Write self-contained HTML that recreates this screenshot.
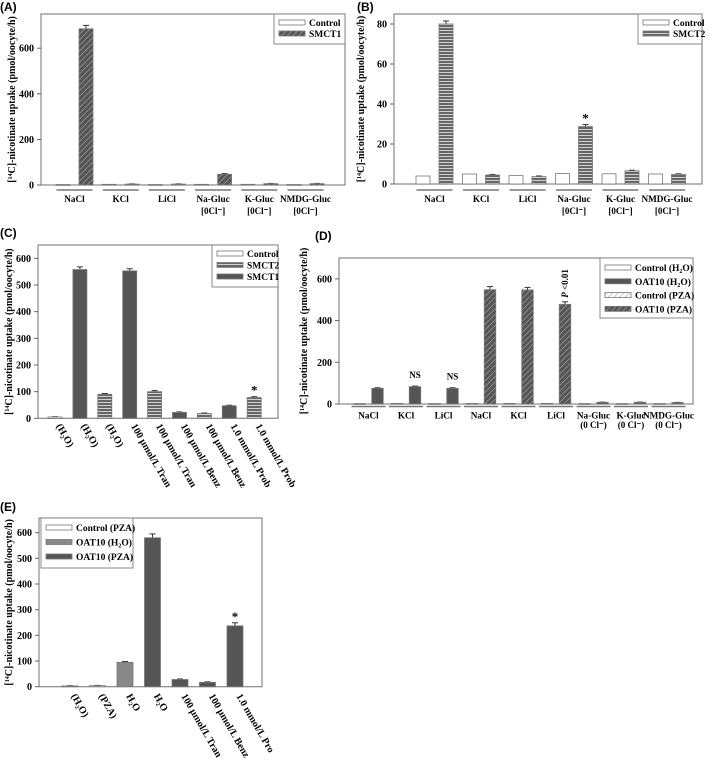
<!DOCTYPE html>
<html><head><meta charset="utf-8"><style>
body{margin:0;background:#fff}
svg{display:block;font-family:"Liberation Serif",serif;font-weight:bold}
.pl{font-family:"Liberation Sans",sans-serif;font-weight:bold;font-size:12px}
</style></head><body>
<svg id="fig" width="709" height="762" viewBox="0 0 709 762" xmlns="http://www.w3.org/2000/svg">
<defs>
<pattern id="diag" width="4" height="4" patternUnits="userSpaceOnUse" patternTransform="rotate(45)"><rect width="4" height="4" fill="#555"/><line x1="0" y1="0" x2="0" y2="4" stroke="#aaa" stroke-width="1.2"/></pattern>
<pattern id="horiz" width="4" height="3" patternUnits="userSpaceOnUse"><rect width="4" height="3" fill="#666"/><line x1="0" y1="0.5" x2="4" y2="0.5" stroke="#ddd" stroke-width="0.9"/></pattern>
<pattern id="diagl" width="4" height="4" patternUnits="userSpaceOnUse" patternTransform="rotate(45)"><rect width="4" height="4" fill="#fff"/><line x1="0" y1="0" x2="0" y2="4" stroke="#999" stroke-width="1"/></pattern>
</defs>
</svg>
<script>
// ---- Panel A data ----
const catsA = ["NaCl","KCl","LiCl","Na-Gluc","K-Gluc","NMDG-Gluc"];
const ctrlA = [2,3,2,3,3,2];
const smct1A = [685,4,4,47,6,6];
const errA = [15,1,1,3,1,1];
const ticksA = [0,200,400,600];
// ---- Panel B data ----
const catsB = ["NaCl","KCl","LiCl","Na-Gluc","K-Gluc","NMDG-Gluc"];
const ctrlB = [4,5,4.2,5.2,5.1,5.0];
const smct2B = [80,4.5,3.7,28.7,6.6,4.8];
const errB = [1.5,0.3,0.3,1,0.3,0.3];
const ticksB = [0,20,40,60,80];
// ---- Panel C data ----
const catsC = ["(H\u2082O)","(H\u2082O)","(H\u2082O)","100 \u00b5mol/L Tran","100 \u00b5mol/L Tran","100 \u00b5mol/L Benz","100 \u00b5mol/L Benz","1.0 mmol/L Prob","1.0 mmol/L Prob"];
const valsC = [5,558,90,553,100,22,18,47,78];
const errC = [1,10,3,8,4,2,2,2,3];
const seriesC = ["Control","SMCT1","SMCT2","SMCT1","SMCT2","SMCT1","SMCT2","SMCT1","SMCT2"];
const ticksC = [0,100,200,300,400,500,600];
// ---- Panel D data ----
const catsD = ["NaCl","KCl","LiCl","NaCl","KCl","LiCl","Na-Gluc","K-Gluc","NMDG-Gluc"];
const ctrlD = [2,3,2,3,3,3,2,2,2];
const oatD = [75,83,75,548,547,478,8,8,7];
const errD = [3,3,3,15,12,12,1,1,1];
const ticksD = [0,200,400,600];
// ---- Panel E data ----
const catsE = ["(H\u2082O)","(PZA)","H\u2082O","H\u2082O","100 \u00b5mol/L Tran","100 \u00b5mol/L Benz","1.0 mmol/L Pro"];
const valsE = [3,4,95,580,28,17,237];
const errE = [1,1,3,15,2,2,12];
const seriesE = ["Control (PZA)","Control (PZA)","OAT10 (H2O)","OAT10 (PZA)","OAT10 (PZA)","OAT10 (PZA)","OAT10 (PZA)"];
const ticksE = [0,100,200,300,400,500,600];

const NS="http://www.w3.org/2000/svg";
const svg=document.getElementById('fig');
function mk(tag,attrs,parent,txt){const e=document.createElementNS(NS,tag);for(const k in attrs)e.setAttribute(k,attrs[k]);if(txt!==undefined)e.textContent=txt;(parent||svg).appendChild(e);return e;}
const fills={"SMCT1":"url(#diag)","SMCT2":"url(#horiz)","Control (PZA)":"url(#diagl)","OAT10 (PZA)":"url(#diag)"};

function frame(g,P,ticks,label,tx){
  mk('rect',{x:P.x0,y:P.y1,width:P.x1-P.x0,height:P.y0-P.y1,fill:'none',stroke:'#888','stroke-width':1.2},g);
  const sy=v=>P.y0-(v/P.max)*(P.y0-P.y1);
  ticks.forEach(t=>{
    const y=sy(t);
    const l=mk('line',{x1:P.x0-4,x2:P.x0,y1:y,y2:y,stroke:'#666'},g);
    
    
    const tt=mk('text',{x:P.x0-7,y:y+3.5,'text-anchor':'end','font-size':10},g,String(t));
    
    
  });
  const ty=(P.y0+P.y1)/2;
  const t=mk('text',{x:tx,y:ty,'text-anchor':'middle','font-size':10,transform:`rotate(-90 ${tx} ${ty})`},g);
  
  
  mk('tspan',{},t,'[');mk('tspan',{'font-size':6,dy:-3},t,'14');mk('tspan',{dy:3},t,'C]-nicotinate uptake (pmol/oocyte/h)');
  const pl=mk('text',{x:P.lx,y:P.ly,'class':'pl'},g,label);
  
  
  return sy;
}
function bar(g,sy,cx,w,v,err,fill,name){
  const y=sy(v),y0=sy(0);
  if(err){const ye=sy(v+err);
    const e1=mk('line',{x1:cx,x2:cx,y1:y,y2:ye,stroke:'#333'},g);
    const e2=mk('line',{x1:cx-3,x2:cx+3,y1:ye,y2:ye,stroke:'#333'},g);
    
    }
  const r=mk('rect',{x:cx-w/2,y:y,width:w,height:Math.max(0.8,y0-y),fill:fill,stroke:'#777','stroke-width':0.8},g);
  
  
}
function legend(g,x,y,w,h,items,rowH,y0){
  const b=mk('rect',{x:x,y:y,width:w,height:h,fill:'#fff',stroke:'#888'},g);
  
  items.forEach((it,i)=>{
    const yy=y+y0+i*rowH;
    const s=mk('rect',{x:x+5,y:yy-4,width:26,height:5,fill:it[1],stroke:'#777','stroke-width':0.8},g);
    
    const t=mk('text',{x:x+35,y:yy+2,'font-size':9.5},g);
    
    it[0].forEach(p=>mk('tspan',p[1]||{},t,p[0]));
  });
}
function underlabels(g,cx,cats,half,l2,lineY,twoY,fs){
  cats.forEach((c,i)=>{
    const u=mk('line',{x1:cx(i)-half,x2:cx(i)+half,y1:lineY,y2:lineY,stroke:'#777','stroke-width':1.5},g);
    
    const t=mk('text',{x:cx(i),y:lineY+12,'text-anchor':'middle','font-size':fs},g,c);
    
    if(l2&&l2[i]){const t2=mk('text',{x:cx(i),y:lineY+twoY,'text-anchor':'middle','font-size':9},g,l2[i]);
      }
  });
}
function rotlabels(g,cx,y,cats){
  cats.forEach((c,i)=>{
    const x=cx(i)+1;
    const t=mk('text',{x:x,y:y,'font-size':10,transform:`rotate(60 ${x} ${y})`},g,c);
    
  });
}
const ann=(g,x,y,s,name,extra)=>{const t=mk('text',Object.assign({x:x,y:y,'text-anchor':'middle','font-size':10},extra||{}),g,s);return t;};

// Panel A
(function(){
  const g=mk('g',{});
  const P={x0:41,x1:345,y0:185,y1:14,max:750,lx:0,ly:11};
  const sy=frame(g,P,ticksA,'(A)',15);
  const cx=i=>74.5+46.2*i;
  catsA.forEach((c,i)=>{bar(g,sy,cx(i)-11.5,14,ctrlA[i],0,'#fff','bar-control');bar(g,sy,cx(i)+11.5,14,smct1A[i],errA[i],fills.SMCT1,'bar-smct1');});
  underlabels(g,cx,catsA,18,[0,0,0,'[0Cl\u207b]','[0Cl\u207b]','[0Cl\u207b]'],190,24,9.2);
  legend(g,274,14,71,30,[[[['Control']],'#fff'],[[['SMCT1']],fills.SMCT1]],11,10);
})();
// Panel B
(function(){
  const g=mk('g',{});
  const P={x0:394,x1:702,y0:184,y1:14,max:85,lx:357,ly:11};
  const sy=frame(g,P,ticksB,'(B)',364);
  const cx=i=>434.5+46.5*i;
  catsB.forEach((c,i)=>{bar(g,sy,cx(i)-11.5,14,ctrlB[i],0,'#fff','bar-control');bar(g,sy,cx(i)+11.5,14,smct2B[i],errB[i],fills.SMCT2,'bar-smct2');});
  underlabels(g,cx,catsB,18,[0,0,0,'[0Cl\u207b]','[0Cl\u207b]','[0Cl\u207b]'],190,24,9.2);
  ann(g,cx(3)+11.5,sy(smct2B[3]+errB[3])-2,'*','significance-star',{'font-size':13});
  legend(g,638,14,64,30,[[[['Control']],'#fff'],[[['SMCT2']],fills.SMCT2]],11,10);
})();
// Panel C
(function(){
  const g=mk('g',{});
  const P={x0:38,x1:278,y0:418.3,y1:245,max:650,lx:0,ly:237};
  const sy=frame(g,P,ticksC,'(C)',12);
  const cx=i=>55+24.9*i;
  const fm={"Control":"#fff","SMCT1":"#555","SMCT2":fills.SMCT2};
  valsC.forEach((v,i)=>bar(g,sy,cx(i),14,v,errC[i],fm[seriesC[i]],'bar-'+seriesC[i].toLowerCase()));
  rotlabels(g,cx,426,catsC);
  ann(g,cx(8),sy(valsC[8]+errC[8])-2,'*','significance-star',{'font-size':13});
  legend(g,212,245,66,42,[[[['Control']],'#fff'],[[['SMCT2']],fills.SMCT2],[[['SMCT1']],'#555']],11.5,10);
})();
// Panel D
(function(){
  const g=mk('g',{});
  const P={x0:339,x1:693,y0:404,y1:258,max:700,lx:315,ly:240};
  const sy=frame(g,P,ticksD,'(D)',307);
  const cx=i=>377.5+37.5*i;
  catsD.forEach((c,i)=>{
    const pza=(i>=3&&i<=5);
    bar(g,sy,cx(i)-18,11.5,ctrlD[i],0,pza?fills['Control (PZA)']:'#fff','bar-control');
    bar(g,sy,cx(i),11.5,oatD[i],errD[i],pza?fills['OAT10 (PZA)']:'#555','bar-oat10');
  });
  const gx=i=>cx(i)-9;
  underlabels(g,gx,catsD,17,[0,0,0,0,0,0,'(0 Cl\u207b)','(0 Cl\u207b)','(0 Cl\u207b)'],406.5,21.5,9.2);
  ann(g,cx(1),sy(oatD[1]+errD[1])-8,'NS','ns-label',{'font-size':9});
  ann(g,cx(2),sy(oatD[2]+errD[2])-8,'NS','ns-label',{'font-size':9});
  const px=cx(5)+3,py=sy(oatD[5]+errD[5])-4;
  const pt=mk('text',{x:px,y:py,'font-size':9,transform:`rotate(-90 ${px} ${py})`},g);
  
  mk('tspan',{'font-style':'italic'},pt,'P');mk('tspan',{},pt,' <0.01');
  legend(g,600,258,93,60,[
    [[['Control (H'],['2',{'font-size':6,dy:2}],['O)',{dy:-2}]],'#fff'],
    [[['OAT10 (H'],['2',{'font-size':6,dy:2}],['O)',{dy:-2}]],'#555'],
    [[['Control (PZA)']],fills['Control (PZA)']],
    [[['OAT10 (PZA)']],fills['OAT10 (PZA)']]],13.8,11);
})();
// Panel E
(function(){
  const g=mk('g',{});
  const P={x0:39,x1:262,y0:686.7,y1:518,max:657,lx:0,ly:511};
  const sy=frame(g,P,ticksE,'(E)',12);
  const cx=i=>70+27.5*i;
  const fm={"Control (PZA)":"#fff","OAT10 (H2O)":"#888","OAT10 (PZA)":"#555"};
  valsE.forEach((v,i)=>bar(g,sy,cx(i),16,v,errE[i],fm[seriesE[i]],'bar-'+seriesE[i].replace(/[^A-Za-z0-9]+/g,'-').toLowerCase()));
  rotlabels(g,cx,696,catsE);
  ann(g,cx(6),sy(valsE[6]+errE[6])-2,'*','significance-star',{'font-size':13});
  legend(g,41,518,92,50,[
    [[['Control (PZA)']],'#fff'],
    [[['OAT10 (H'],['2',{'font-size':6,dy:2}],['O)',{dy:-2}]],'#888'],
    [[['OAT10 (PZA)']],'#555']],14.5,11);
})();
</script>
</body></html>
